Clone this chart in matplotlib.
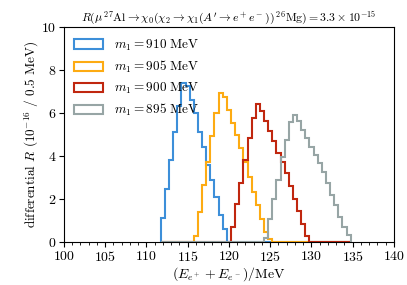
import numpy as np
import matplotlib
matplotlib.use("Agg")
import matplotlib.pyplot as plt
import matplotlib.patches as mpatches
from matplotlib.ticker import MultipleLocator

plt.rcParams['font.family'] = 'serif'
plt.rcParams['font.serif'] = ['cmr10', 'DejaVu Serif']
plt.rcParams['mathtext.fontset'] = 'cm'
plt.rcParams['axes.unicode_minus'] = False
plt.rcParams['axes.formatter.use_mathtext'] = True

# histogram values, 0.5 MeV bins
labels = [r"$m_1 = 910\ \mathrm{MeV}$", r"$m_1 = 905\ \mathrm{MeV}$",
          r"$m_1 = 900\ \mathrm{MeV}$", r"$m_1 = 895\ \mathrm{MeV}$"]
colors = ['#3d8fd9', '#fdab13', '#c0270f', '#97a5a5']
starts = [111.75, 115.75, 120.25, 124.25]
m910 = [1.1, 2.45, 3.8, 5.1, 6.35, 7.4, 7.26, 6.6, 6.0, 5.13, 4.43, 3.58,
        2.88, 2.08, 1.26, 0.6]
m905 = [0.3, 1.41, 2.65, 3.74, 4.95, 6.0, 6.95, 6.76, 6.14, 5.55, 4.98, 4.36,
        3.7, 3.03, 2.33, 1.7, 1.07, 0.48, 0.14]
m900 = [0.71, 1.77, 2.76, 3.83, 4.82, 5.75, 6.42, 6.1, 5.63, 5.16, 4.7, 4.12,
        3.7, 3.2, 2.62, 2.0, 1.45, 0.85, 0.3]
m895 = [0.2, 1.05, 2.0, 2.9, 3.95, 4.74, 5.6, 5.92, 5.63, 5.21, 4.82, 4.43,
        4.05, 3.66, 3.27, 2.73, 2.19, 1.72, 1.18, 0.71, 0.33]
series = [m910, m905, m900, m895]

edges = np.arange(111.75, 135.0, 0.5)

fig, ax = plt.subplots(figsize=(4.07, 2.85), dpi=100)
fig.subplots_adjust(left=0.157, right=0.968, bottom=0.151, top=0.905)

handles = []
for vals, s, c, lab in zip(series, starts, colors, labels):
    full = np.zeros(len(edges) - 1)
    i0 = int(round((s - edges[0]) / 0.5))
    full[i0:i0 + len(vals)] = vals
    ax.stairs(full, edges, color=c, lw=1.5)
    handles.append(mpatches.Rectangle((0, 0), 1, 1, facecolor='none',
                                      edgecolor=c, lw=1.5, label=lab))

ax.set_xlim(100, 140)
ax.set_ylim(0, 10)
ax.xaxis.set_major_locator(MultipleLocator(5))
ax.xaxis.set_minor_locator(MultipleLocator(1))
ax.yaxis.set_major_locator(MultipleLocator(2))
ax.tick_params(labelsize=10, pad=2)
ax.tick_params(which='minor', length=2, width=0.6)

ax.set_xlabel(r"$(E_{e^+} + E_{e^-})/\mathrm{MeV}$", fontsize=10, labelpad=1)
ax.set_ylabel(r"differential $R$ $(10^{-16}$ / 0.5 MeV$)$", fontsize=9.5,
              labelpad=0)
ax.set_title(r"$R(\mu\,^{27}\mathrm{Al} \to \chi_0(\chi_2 \to \chi_1(A' \to e^+e^-))\,^{26}\mathrm{Mg}) = 3.3\times10^{-15}$",
             fontsize=8.5, pad=4)

ax.legend(handles=handles, loc='upper left', frameon=False, fontsize=9.5,
          handlelength=2.2, borderaxespad=0.4, labelspacing=0.45)

fig.savefig("out.png", dpi=100)
